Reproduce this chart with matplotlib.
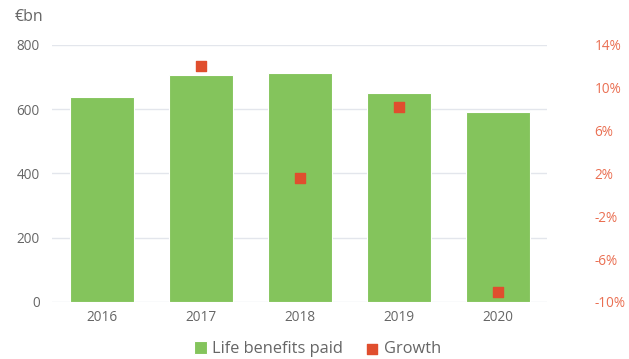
import matplotlib.pyplot as plt
import numpy as np

plt.rcParams['font.family'] = ['Open Sans', 'DejaVu Sans']

years = ['2016', '2017', '2018', '2019', '2020']
benefits = [637, 705, 714, 651, 591]
growth_years = ['2017', '2018', '2019', '2020']
growth = [12.0, 1.6, 8.2, -9.1]

green = '#84c45c'
red = '#e04e2e'
grey = '#666666'

fig = plt.figure(figsize=(6.29, 3.59), dpi=100)
ax = fig.add_axes([0.083, 0.159, 0.787, 0.716])
x = np.arange(len(years))
ax.bar(x, benefits, width=0.65, color=green, edgecolor='white', linewidth=0.8,
       zorder=2, label='Life benefits paid')
ax.set_xlim(-0.5, len(years) - 0.5)
ax.set_ylim(0, 800)
ax.set_yticks([0, 200, 400, 600, 800])
ax.set_xticks(x)
ax.set_xticklabels(years)
ax.grid(axis='y', color='#e3e6ec', linewidth=1, zorder=0)
ax.set_axisbelow(True)
for s in ax.spines.values():
    s.set_visible(False)
ax.tick_params(length=0, labelsize=9.8, colors=grey, pad=9)
ax.tick_params(axis='x', pad=6)

ax2 = ax.twinx()
gx = [years.index(y) for y in growth_years]
ax2.scatter(gx, growth, marker='s', s=48, color=red, zorder=3, label='Growth')
ax2.set_ylim(-10, 14)
ax2.set_yticks([-10, -6, -2, 2, 6, 10, 14])
ax2.set_yticklabels([f'{v}%' for v in [-10, -6, -2, 2, 6, 10, 14]])
for s in ax2.spines.values():
    s.set_visible(False)
ax2.tick_params(length=0, labelsize=9.8, colors='#ea6f52', pad=34)

fig.text(0.024, 0.952, '€bn', fontsize=11.5, color=grey, va='center')

h1, l1 = ax.get_legend_handles_labels()
h2, l2 = ax2.get_legend_handles_labels()
fig.legend(h1 + h2, l1 + l2, loc='center', bbox_to_anchor=(0.505, 0.027),
           ncol=2, frameon=False, fontsize=11.8, labelcolor=grey,
           handlelength=0.8, handleheight=0.8, handletextpad=0.3,
           columnspacing=1.4)

fig.savefig('out.png', dpi=100)
